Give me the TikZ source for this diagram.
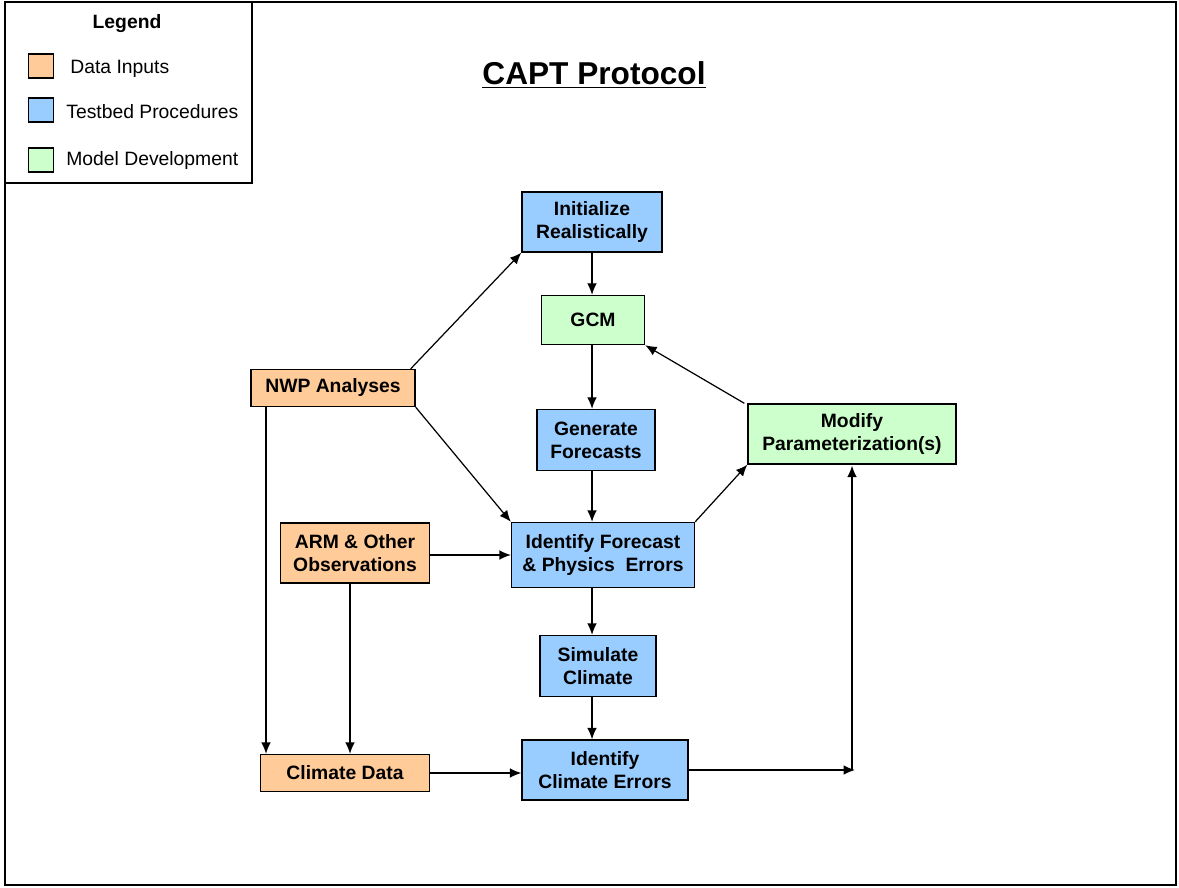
\documentclass[tikz,border=0pt]{standalone}
\usepackage{fontspec}
\setmainfont{Liberation Sans}
\usetikzlibrary{positioning, calc, arrows.meta}

\definecolor{datacol}{HTML}{FFCC99}
\definecolor{testcol}{HTML}{99CCFF}
\definecolor{modelcol}{HTML}{CCFFCC}

\tikzset{
  box/.style={draw, line width=0.8pt, align=center, inner sep=0pt,
    font=\fontsize{11}{13}\selectfont\bfseries},
  data/.style={box, fill=datacol},
  test/.style={box, fill=testcol},
  model/.style={box, fill=modelcol},
  arr/.style={-{Latex[length=6.5pt,width=5.5pt]}, line width=0.7pt},
  swatch/.style={draw, line width=0.8pt, minimum width=0.5cm, minimum height=0.48cm, inner sep=0pt},
  legtext/.style={anchor=west, inner sep=0pt, font=\fontsize{11}{13}\selectfont}
}

\begin{document}
\begin{tikzpicture}[x=0.02cm, y=-0.02cm]
        \useasboundingbox (0,0) rectangle (1179,888);

        % the frame
        \draw [line width=1.3pt] (5,2) rectangle (1176,885);

        % legend
        \draw [line width=0.9pt, fill=white] (5,2) rectangle (252,183);
        \node[font=\fontsize{11}{13}\selectfont\bfseries] (leg) at (127,24) {Legend};
        \node[swatch, fill=datacol]  (sdata)  at (41,66)  {};
        \node[swatch, fill=testcol]  (stest)  at (41,110) {};
        \node[swatch, fill=modelcol] (smodel) at (41,160) {};
        \node[legtext] (ldata)  at (70,69)  {Data Inputs};
        \node[legtext] (ltest)  at (66,112) {Testbed Procedures};
        \node[legtext] (lmodel) at (66,161) {Model Development};

        % title
        \node[font=\fontsize{18}{22}\selectfont\bfseries] (title) at (594,75) {\underline{CAPT Protocol}};

        % testbed procedures
        \node[test, minimum width=2.8cm, minimum height=1.2cm]  (init) at (592,222) {Initialize\\Realistically};
        \node[test, minimum width=2.36cm, minimum height=1.22cm] (gen)  at (596,440) {Generate\\Forecasts};
        \node[test, minimum width=3.66cm, minimum height=1.3cm]  (idf)  at (603,555) {Identify Forecast\\\& Physics\ \ Errors};
        \node[test, minimum width=2.32cm, minimum height=1.22cm] (sim)  at (598,666) {Simulate\\Climate};
        \node[test, minimum width=3.32cm, minimum height=1.2cm]  (idc)  at (605,770) {Identify\\Climate Errors};

        % model development
        \node[model, minimum width=2.06cm, minimum height=0.98cm] (gcm) at (593,320) {GCM};
        \node[model, minimum width=4.16cm, minimum height=1.2cm]  (mod) at (852,434) {Modify\\Parameterization(s)};

        % data inputs
        \node[data, minimum width=3.28cm, minimum height=0.74cm] (nwp)  at (333,388) {NWP Analyses};
        \node[data, minimum width=2.98cm, minimum height=1.2cm]  (arm)  at (355,553) {ARM \& Other\\Observations};
        \node[data, minimum width=3.38cm, minimum height=0.74cm] (clim) at (345,773) {Climate Data};

        \coordinate (turn) at (855,770);

        % main chain
        \draw [arr] (init) -- (init |- gcm.north);
        \draw [arr] (gcm.south -| init) -- (gen.north -| init);
        \draw [arr] (gen.south -| init) -- (idf.north -| init);
        \draw [arr] (idf.south -| init) -- (sim.north -| init);
        \draw [arr] (sim.south -| init) -- (idc.north -| init);

        % from the analyses
        \draw [arr] ($(nwp.north east)+(-5,0)$) -- (init.south west);
        \draw [arr] (nwp.south east) -- (idf.north west);
        \draw [arr] (nwp.south -| 266,0) -- (clim.north -| 266,0);

        % observations
        \draw [arr] (arm.east |- idf) -- (idf.west);
        \draw [arr] (arm.south -| 350,0) -- (clim.north -| 350,0);
        \draw [arr] (clim) -- (clim -| idc.west);

        % feedback loop
        \draw [arr] (idf.north east) -- (mod.south west);
        \draw [arr] ($(mod.north west)+(-3,0)$) -- (gcm.south east);
        \draw [arr] (idc.east |- turn) -- (turn);
        \draw [arr] ($(turn)+(-3,0)$) -- ($(mod.south)+(0,1)$);
\end{tikzpicture}
\end{document}
